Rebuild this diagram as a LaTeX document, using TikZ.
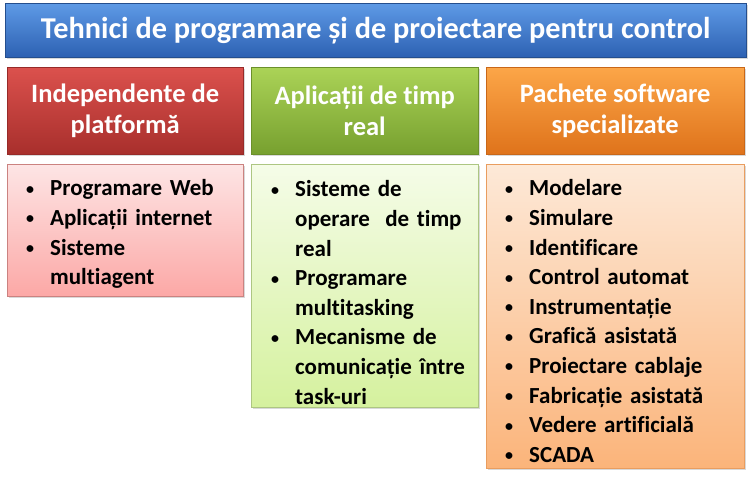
\documentclass[tikz,border=0pt]{standalone}
\usepackage{fontspec}
\setmainfont{Carlito}[Ligatures=NoCommon]
\usepackage{enumitem}
\usetikzlibrary{positioning, shadows}

\definecolor{blueTop}{HTML}{5E9AE6}
\definecolor{blueBot}{HTML}{2D61B2}
\definecolor{redTop}{HTML}{DB514D}
\definecolor{redBot}{HTML}{A82F2C}
\definecolor{greenTop}{HTML}{ABD357}
\definecolor{greenBot}{HTML}{77A02F}
\definecolor{orangeTop}{HTML}{FCA648}
\definecolor{orangeBot}{HTML}{DF731B}
\definecolor{redLight}{HTML}{FDE5E5}
\definecolor{redDeep}{HTML}{FCA8A6}
\definecolor{greenLight}{HTML}{F5FCE8}
\definecolor{greenDeep}{HTML}{D5F19E}
\definecolor{orangeLight}{HTML}{FDE9D8}
\definecolor{orangeDeep}{HTML}{FBB47A}

\newlist{puncte}{itemize}{1}
\setlist[puncte]{label=\raisebox{1.5pt}{\fontsize{16}{16}\selectfont\textbullet},
    leftmargin=43pt, labelsep=16pt, itemsep=0pt, topsep=0pt, parsep=0pt, partopsep=0pt,
    before=\raggedright}

\begin{document}
\begin{tikzpicture}[x=1pt, y=-1pt]
    \tikzset{
        panel/.style={rectangle, draw=#1, inner sep=0pt, anchor=north west,
            drop shadow={shadow xshift=1.5pt, shadow yshift=-2pt, opacity=.3}},
        header/.style={panel=#1, text=white, align=center,
            font=\bfseries\fontsize{26.5}{31}\selectfont},
        lista/.style={inner sep=0pt, anchor=north west, text width=#1,
            align=left, font=\bfseries\fontsize{23}{29.6}\selectfont\raggedright}
    }
    \useasboundingbox (0,0) rectangle (752,479);

    % title
    \node [header=blueBot!80!black, top color=blueTop, bottom color=blueBot,
           minimum width=741pt, minimum height=54pt,
           font=\bfseries\fontsize{30.3}{34}\selectfont] (titlu) at (5,3)
        {\raisebox{-2pt}{Tehnici de programare și de proiectare pentru control}};

    % column headers
    \node [header=redBot!90!black, top color=redTop, bottom color=redBot,
           minimum width=236pt, minimum height=87pt] (platforma) at (7,67)
        {Independente de\\platformă};
    \node [header=greenBot!90!black, top color=greenTop, bottom color=greenBot,
           minimum width=227pt, minimum height=87pt] (timpreal) at (251,67)
        {Aplicații de timp\\real};
    \node [header=orangeBot!90!black, top color=orangeTop, bottom color=orangeBot,
           minimum width=258pt, minimum height=87pt] (pachete) at (486,67)
        {Pachete software\\specializate};

    % list panels
    \node [panel=redBot!60, top color=redLight, bottom color=redDeep,
           minimum width=236pt, minimum height=132pt] (lista1) at (7,164) {};
    \node [panel=greenBot!60, top color=greenLight, bottom color=greenDeep,
           minimum width=227pt, minimum height=243pt] (lista2) at (251,164) {};
    \node [panel=orangeBot!70, top color=orangeLight, bottom color=orangeDeep,
           minimum width=258pt, minimum height=304pt] (lista3) at (486,164) {};

    \node [lista=230pt] (puncte1) at ([yshift=-2pt]lista1.north west) {%
        \begin{puncte}
            \item Programare Web
            \item Aplicații internet
            \item Sisteme\newline multiagent
        \end{puncte}};
    \node [lista=222pt] (puncte2) at ([xshift=1pt, yshift=-3pt]lista2.north west) {%
        \begin{puncte}
            \item Sisteme de\newline operare\ \ de timp\newline real
            \item Programare\newline multitasking
            \item Mecanisme de\newline comunicație între\newline task-uri
        \end{puncte}};
    \node [lista=252pt] (puncte3) at ([yshift=-2pt]lista3.north west) {%
        \begin{puncte}
            \item Modelare
            \item Simulare
            \item Identificare
            \item Control automat
            \item Instrumentație
            \item Grafică asistată
            \item Proiectare cablaje
            \item Fabricație asistată
            \item Vedere artificială
            \item SCADA
        \end{puncte}};
\end{tikzpicture}
\end{document}
